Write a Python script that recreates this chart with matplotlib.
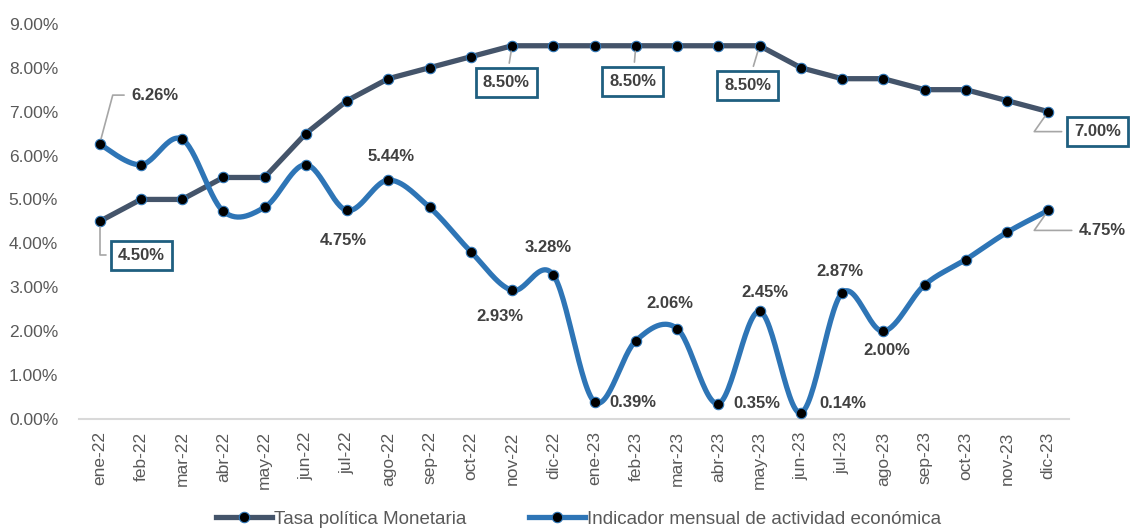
import numpy as np
import matplotlib
matplotlib.use("Agg")
import matplotlib.pyplot as plt
from matplotlib.lines import Line2D

plt.rcParams["font.family"] = ["Liberation Sans", "DejaVu Sans"]

months = ["ene-22", "feb-22", "mar-22", "abr-22", "may-22", "jun-22", "jul-22", "ago-22",
          "sep-22", "oct-22", "nov-22", "dic-22", "ene-23", "feb-23", "mar-23", "abr-23",
          "may-23", "jun-23", "jul-23", "ago-23", "sep-23", "oct-23", "nov-23", "dic-23"]
tasa = [4.50, 5.00, 5.00, 5.50, 5.50, 6.50, 7.25, 7.75, 8.00, 8.25, 8.50, 8.50,
        8.50, 8.50, 8.50, 8.50, 8.50, 8.00, 7.75, 7.75, 7.50, 7.50, 7.25, 7.00]
imae = [6.26, 5.79, 6.37, 4.73, 4.82, 5.79, 4.75, 5.44, 4.82, 3.81, 2.93, 3.28,
        0.39, 1.78, 2.06, 0.35, 2.45, 0.14, 2.87, 2.00, 3.05, 3.63, 4.25, 4.75]
series_names = ["Tasa política Monetaria", "Indicador mensual de actividad económica"]

C_TASA = "#44546A"
C_IMAE = "#2E75B6"
C_BOX = "#1F5F80"
C_TXT = "#404040"
C_AX = "#595959"


def smooth(x, y, n=30):
    # Excel-like smoothed line: cubic bezier with catmull-rom control points
    x = np.asarray(x, float)
    y = np.asarray(y, float)
    px = np.concatenate([[x[0]], x, [x[-1]]])
    py = np.concatenate([[y[0]], y, [y[-1]]])
    xs, ys = [], []
    t = np.linspace(0, 1, n)
    for i in range(len(x) - 1):
        p0 = np.array([px[i + 1], py[i + 1]])
        p3 = np.array([px[i + 2], py[i + 2]])
        c1 = p0 + (p3 - np.array([px[i], py[i]])) / 6
        c2 = p3 - (np.array([px[i + 3], py[i + 3]]) - p0) / 6
        b = ((1 - t) ** 3)[:, None] * p0 + (3 * (1 - t) ** 2 * t)[:, None] * c1 \
            + (3 * (1 - t) * t ** 2)[:, None] * c2 + (t ** 3)[:, None] * p3
        xs.extend(b[:, 0])
        ys.extend(b[:, 1])
    return np.array(xs), np.array(ys)


fig = plt.figure(figsize=(11.3, 5.29), dpi=100)
ax = fig.add_axes([0.0699, 0.208, 0.876, 0.747])

x = np.arange(len(months))
ax.plot(x, tasa, color=C_TASA, lw=3.8, solid_capstyle="round", zorder=3, clip_on=False)
sx, sy = smooth(x, imae)
ax.plot(sx, sy, color=C_IMAE, lw=3.8, solid_capstyle="round", zorder=3, clip_on=False)
mk = dict(ls="none", marker="o", ms=7.5, mfc="black", mec=C_IMAE, mew=0.8, zorder=4, clip_on=False)
ax.plot(x, tasa, **mk)
ax.plot(x, imae, **mk)

ax.set_xlim(-0.5, len(months) - 0.5)
ax.set_ylim(0, 9)
ax.set_yticks(np.arange(0, 10, 1))
ax.set_yticklabels([f"{v:.2f}%" for v in range(10)])
ax.set_xticks(x)
ax.set_xticklabels(months, rotation=90)
ax.tick_params(axis="both", length=0, labelsize=12.5, labelcolor=C_AX)
ax.tick_params(axis="y", pad=15)
ax.tick_params(axis="x", pad=9)
for s in ["top", "right", "left"]:
    ax.spines[s].set_visible(False)
ax.spines["bottom"].set_color("#D9D9D9")
ax.spines["bottom"].set_linewidth(1.5)

lbl = dict(fontsize=12, fontweight="bold", color=C_TXT, textcoords="offset pixels",
           va="center", ha="center", zorder=6)
box = dict(boxstyle="square,pad=0.42", fc="white", ec=C_BOX, lw=2)
lead = dict(arrowstyle="-", color="#A6A6A6", lw=1.2, shrinkA=3, shrinkB=4)

# boxed labels on the policy rate
ax.annotate(f"{tasa[0]:.2f}%", (0, tasa[0]), xytext=(42, -34), bbox=box,
            arrowprops=dict(lead, connectionstyle="angle,angleA=0,angleB=90"), **lbl)
for i, dx, dy in [(10, -6, -37), (13, -3, -36), (16, -12, -40)]:
    ax.annotate(f"{tasa[i]:.2f}%", (i, tasa[i]), xytext=(dx, dy), bbox=box,
                arrowprops=lead, **lbl)
ax.annotate(f"{tasa[23]:.2f}%", (23, tasa[23]), xytext=(49, -20), bbox=box,
            arrowprops=dict(lead, connectionstyle="angle,angleA=0,angleB=55"), **lbl)

# labels on the activity indicator
ax.annotate(f"{imae[0]:.2f}%", (0, imae[0]), xytext=(55, 49),
            arrowprops=dict(lead, connectionstyle="angle,angleA=0,angleB=75"), **lbl)
ax.annotate(f"{imae[23]:.2f}%", (23, imae[23]), xytext=(54, -20),
            arrowprops=dict(lead, connectionstyle="angle,angleA=0,angleB=55"), **lbl)
placed = [(6, -4, -30), (7, 3, 24), (10, -12, -26), (11, -5, 27), (12, 38, -1), (14, -7, 25),
          (15, 39, 0), (16, 5, 19), (17, 42, 9), (18, -2, 21), (19, 4, -19)]
for i, dx, dy in placed:
    ax.annotate(f"{imae[i]:.2f}%", (i, imae[i]), xytext=(dx, dy), **lbl)

handles = [Line2D([], [], color=c, lw=3.8, marker="o", ms=7.5, mfc="black", mec=C_IMAE, mew=0.8)
           for c in (C_TASA, C_IMAE)]
fig.legend(handles, series_names, loc="lower center", bbox_to_anchor=(0.512, -0.03), ncol=2,
           frameon=False, labelcolor=C_AX, handlelength=3.0, handletextpad=0.1,
           columnspacing=3.3, prop={"size": 13.5})

fig.savefig("out.png", dpi=100)
